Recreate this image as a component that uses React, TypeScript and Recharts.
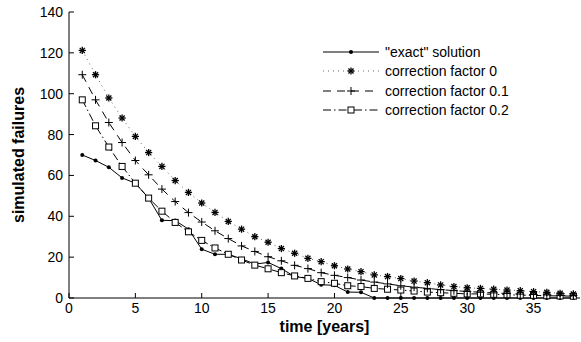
import { LineChart, Line, XAxis, YAxis } from "recharts";

const years = [
  1, 2, 3, 4, 5, 6, 7, 8, 9, 10, 11, 12, 13, 14, 15, 16, 17, 18, 19, 20,
  21, 22, 23, 24, 25, 26, 27, 28, 29, 30, 31, 32, 33, 34, 35, 36, 37, 38,
];

const exactSolution = [
  70, 67.3, 64, 58.8, 56.2, 48.9, 38, 37.9, 33.7, 23.9,
  21.4, 21.4, 19.2, 16.6, 17.4, 14.4, 10.5, 9.6, 6.5, 6.2,
  2.9, 2.8, 0, 0, 0, 0, 0, 0, 0, 0,
  0, 0, 0, 0, 0, 0, 0, 0,
];

const factor0 = [
  121.2, 109.3, 97.9, 88.1, 79.1, 71.2, 64.4, 57.5, 51.7, 46.5,
  41.9, 37.5, 33.7, 30, 27.3, 24.2, 21.9, 19.4, 17.8, 15.8,
  14.2, 12.9, 11.3, 10.5, 9.5, 8.3, 7.5, 6.4, 5.6, 5,
  4.7, 4.3, 3.9, 3.6, 3.1, 2.8, 2.3, 2,
];

const factor01 = [
  109.3, 97, 85.9, 76.1, 67.3, 60.3, 53.3, 47.2, 41.8, 37.2,
  32.9, 29.1, 25.5, 22.8, 20.2, 18.2, 16, 14.4, 12.4, 11.1,
  10, 8.8, 7.8, 6.9, 6, 5.3, 4.7, 4.1, 3.6, 3.2,
  2.8, 2.5, 2.2, 1.9, 1.7, 1.5, 1.3, 1.2,
];

const factor02 = [
  97, 84.3, 73.9, 64.4, 56.2, 48.9, 42.5, 37, 32.4, 28.2,
  24.5, 21.4, 18.6, 16.1, 14.3, 12.4, 10.8, 9.6, 8, 7.2,
  6, 5.6, 4.7, 4.3, 3.9, 3.4, 2.9, 2.6, 2.3, 2,
  2, 1.8, 1.6, 1.4, 1.3, 1.1, 1, 0.9,
];

const xTicks = [0, 5, 10, 15, 20, 25, 30, 35];
const yTicks = [0, 20, 40, 60, 80, 100, 120, 140];

const data = years.map((t, i) => ({
  t,
  exact: exactSolution[i],
  cf0: factor0[i],
  cf01: factor01[i],
  cf02: factor02[i],
}));

type MarkerKind = "dot" | "star" | "plus" | "square";

const SERIES: {
  key: string;
  name: string;
  marker: MarkerKind;
  dash?: string;
  color: string;
}[] = [
  { key: "exact", name: '"exact" solution', marker: "dot", color: "#000" },
  { key: "cf0", name: "correction factor 0", marker: "star", dash: "1 4", color: "#666" },
  { key: "cf01", name: "correction factor 0.1", marker: "plus", dash: "8 6", color: "#000" },
  { key: "cf02", name: "correction factor 0.2", marker: "square", dash: "8 3 1.5 3", color: "#000" },
];

const FONT = "'Liberation Sans', Arial, sans-serif";

function Marker({ kind, cx, cy }: { kind: MarkerKind; cx: number; cy: number }) {
  if (cx == null || cy == null) return null;
  if (kind === "dot") return <circle cx={cx} cy={cy} r={2} fill="#000" />;
  if (kind === "square")
    return <rect x={cx - 3} y={cy - 3} width={6} height={6} fill="#fff" stroke="#000" strokeWidth={1} />;
  if (kind === "plus") {
    const r = 4;
    return (
      <g stroke="#000" strokeWidth={1}>
        <line x1={cx - r} y1={cy} x2={cx + r} y2={cy} />
        <line x1={cx} y1={cy - r} x2={cx} y2={cy + r} />
      </g>
    );
  }
  // star (asterisk)
  const r = 3.6;
  const d = r * 0.707;
  return (
    <g stroke="#000" strokeWidth={1.3}>
      <line x1={cx - r} y1={cy} x2={cx + r} y2={cy} />
      <line x1={cx} y1={cy - r} x2={cx} y2={cy + r} />
      <line x1={cx - d} y1={cy - d} x2={cx + d} y2={cy + d} />
      <line x1={cx - d} y1={cy + d} x2={cx + d} y2={cy - d} />
    </g>
  );
}

const X_MARGIN = 4;
const Y_MARGIN = 6;

function XTick(props: any) {
  const { x, y, payload } = props;
  const axisY = y - X_MARGIN;
  return (
    <g>
      <line x1={x} y1={axisY} x2={x} y2={axisY - 5} stroke="#000" />
      <text x={x} y={axisY + 15} textAnchor="middle" fontSize={14} fontFamily={FONT} fill="#000">
        {payload.value}
      </text>
    </g>
  );
}

function YTick(props: any) {
  const { x, y, payload } = props;
  const axisX = x + Y_MARGIN;
  return (
    <g>
      <line x1={axisX} y1={y} x2={axisX + 5} y2={y} stroke="#000" />
      <text x={x} y={y + 5} textAnchor="end" fontSize={14} fontFamily={FONT} fill="#000">
        {payload.value}
      </text>
    </g>
  );
}

function LegendBox() {
  return (
    <div style={{ position: "absolute", left: 323, top: 42, fontFamily: FONT, fontSize: 14 }}>
      {SERIES.map((s) => (
        <div key={s.key} style={{ height: 19.5, display: "flex", alignItems: "center" }}>
          <svg width={56} height={14}>
            <line x1={0} y1={7} x2={56} y2={7} stroke={s.color} strokeDasharray={s.dash} />
            <Marker kind={s.marker} cx={28} cy={7} />
          </svg>
          <span style={{ marginLeft: 6, whiteSpace: "nowrap" }}>{s.name}</span>
        </div>
      ))}
    </div>
  );
}

export default function App() {
  const order = ["exact", "cf02", "cf01", "cf0"];
  return (
    <div style={{ position: "absolute", left: 0, top: 0, width: 581, height: 342, background: "#fff" }}>
      <LineChart width={581} height={342} data={data} margin={{ top: 12, right: 1, left: 0, bottom: 0 }}>
        <XAxis
          dataKey="t"
          type="number"
          domain={[0, 38.5]}
          ticks={xTicks}
          tickSize={0}
          tickMargin={X_MARGIN}
          tick={<XTick />}
          height={44}
          stroke="#000"
          allowDataOverflow
          label={{
            value: "time [years]",
            position: "center",
            dy: 6,
            style: { fontFamily: FONT, fontSize: 16, fontWeight: "bold", fill: "#000" },
          }}
        />
        <YAxis
          type="number"
          domain={[0, 140]}
          ticks={yTicks}
          tickSize={0}
          tickMargin={Y_MARGIN}
          tick={<YTick />}
          width={69}
          stroke="#000"
          label={{
            value: "simulated failures",
            position: "center",
            angle: -90,
            dx: -16,
            style: { fontFamily: FONT, fontSize: 16, fontWeight: "bold", fill: "#000" },
          }}
        />
        {order.map((k) => {
          const s = SERIES.find((q) => q.key === k)!;
          return (
            <Line
              key={s.key}
              dataKey={s.key}
              name={s.name}
              stroke={s.color}
              strokeWidth={1}
              strokeDasharray={s.dash}
              isAnimationActive={false}
              dot={(p: any) => <Marker key={`${s.key}-${p.index}`} kind={s.marker} cx={p.cx} cy={p.cy} />}
              activeDot={false}
            />
          );
        })}
      </LineChart>
      <LegendBox />
    </div>
  );
}
